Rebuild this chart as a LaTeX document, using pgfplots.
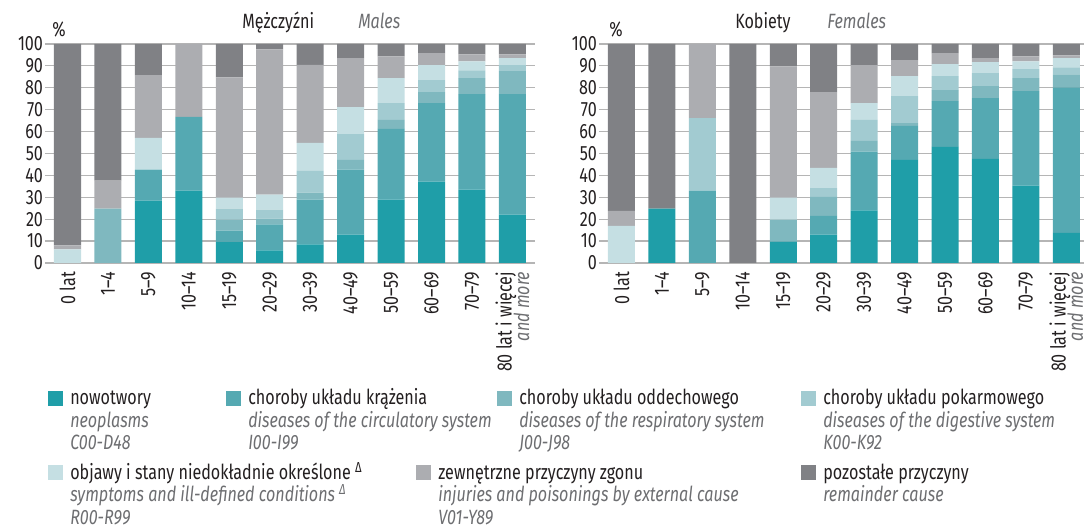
\documentclass[border=0pt]{standalone}
\usepackage{pgfplots}
\pgfplotsset{compat=1.18}
\usepackage{pgfplotstable}
\usepackage{fontspec}
\setmainfont{Fira Sans}[FakeStretch=0.78]
\definecolor{cNeo}{HTML}{1F9EA8}
\definecolor{cCirc}{HTML}{55A9B2}
\definecolor{cResp}{HTML}{7FB8BF}
\definecolor{cDig}{HTML}{A2CBD1}
\definecolor{cSymp}{HTML}{C5DFE3}
\definecolor{cExt}{HTML}{ACADB1}
\definecolor{cRem}{HTML}{808185}
\definecolor{tc}{HTML}{231F20}
\definecolor{tgray}{HTML}{6D6E71}
\definecolor{gridc}{HTML}{B5B5B5}
\newcommand\tickfont{\fontsize{15.5pt}{17pt}\selectfont}
\newcommand\legfont{\fontsize{15.5pt}{16.5pt}\selectfont}

\pgfplotstableread{
x neo circ resp dig symp ext rem
0 0 0 0 0 6.2 1.8 92.0
1 0 0 24.8 0 0 12.8 62.4
2 28.5 14.1 0 0 14.5 28.7 14.2
3 33.0 33.7 0 0 0 33.3 0
4 9.8 5.0 5.0 5.0 5.0 55.0 15.2
5 5.8 11.8 2.7 4.1 6.8 66.4 2.4
6 8.5 20.4 3.2 10.0 12.7 35.7 9.5
7 13.0 29.6 4.5 11.8 12.3 22.3 6.5
8 28.9 32.3 4.1 7.7 11.4 10.0 5.6
9 37.1 35.9 5.0 5.5 6.8 5.5 4.2
10 33.5 43.6 7.3 3.6 4.1 3.2 4.7
11 22.1 55.0 10.5 2.7 3.2 1.8 4.7
}\males

\pgfplotstableread{
x neo circ resp dig symp ext rem
0 0 0 0 0 17.0 6.8 76.2
1 24.8 0 0 0 0 0 75.2
2 0 33.0 0 33.2 0 33.8 0
3 0 0 0 0 0 0 100
4 9.8 0 10.0 0 10.0 60.0 10.2
5 12.9 8.6 8.7 4.0 9.2 34.6 22.0
6 24.0 26.8 5.0 9.5 7.7 17.3 9.7
7 47.1 15.5 1.3 12.3 9.1 7.3 7.4
8 53.0 20.9 5.0 6.4 5.5 5.0 4.2
9 47.6 27.7 5.5 5.9 5.0 1.8 6.5
10 35.3 43.2 5.9 4.1 3.6 2.3 5.6
11 13.8 66.4 5.9 3.2 4.2 1.3 5.2
}\females

\pgfplotsset{
  mystyle/.style={
    scale only axis, width=367.07pt, height=164.25pt,
    xmin=-0.55, xmax=11.55, ymin=0, ymax=100,
    ybar stacked, bar width=20.25pt,
    axis line style={draw=none}, major tick length=0pt,
    ymajorgrids, grid style={line width=0.9pt, color=gridc},
    ytick={0,10,...,100},
    xtick={0,...,11},
    xticklabels={0 lat,1--4,5--9,10--14,15--19,20--29,30--39,40--49,50--59,60--69,70--79,{80 lat i~więcej\\[-4pt]\textcolor{tgray}{\itshape and more}}},
    xticklabel style={rotate=90, anchor=east, align=right, inner sep=0pt, font=\tickfont, text=tc},
    xticklabel shift=6.5pt,
    yticklabel style={anchor=east, inner sep=0pt, font=\tickfont, text=tc},
    yticklabel shift=1.5pt,
    /pgf/number format/assume math mode=true,
    clip=false,
  }
}

% legend entry: text x, first baseline y, colour, three lines
\newcommand\legentry[6]{%
  \fill[#3] ({#1-22},{#2-14}) rectangle ({#1-7},{#2+1});
  \node[anchor=base west, inner sep=0pt, font=\legfont, text=tc] at (#1,#2) {#4};
  \node[anchor=base west, inner sep=0pt, font=\legfont\itshape, text=tgray] at (#1,{#2+22}) {#5};
  \node[anchor=base west, inner sep=0pt, font=\legfont\itshape, text=tgray] at (#1,{#2+45}) {#6};
}

\begin{document}
\begin{tikzpicture}
\useasboundingbox (0,0) rectangle (813pt,-397.5pt);

\begin{axis}[mystyle, at={(33.94pt,-197.25pt)}, anchor=south west]
\addplot[fill=cNeo, draw=none] table[x=x,y=neo]{\males};
\addplot[fill=cCirc, draw=none] table[x=x,y=circ]{\males};
\addplot[fill=cResp, draw=none] table[x=x,y=resp]{\males};
\addplot[fill=cDig, draw=none] table[x=x,y=dig]{\males};
\addplot[fill=cSymp, draw=none] table[x=x,y=symp]{\males};
\addplot[fill=cExt, draw=none] table[x=x,y=ext]{\males};
\addplot[fill=cRem, draw=none] table[x=x,y=rem]{\males};
\end{axis}

\begin{axis}[mystyle, at={(449.4pt,-197.25pt)}, anchor=south west]
\addplot[fill=cNeo, draw=none] table[x=x,y=neo]{\females};
\addplot[fill=cCirc, draw=none] table[x=x,y=circ]{\females};
\addplot[fill=cResp, draw=none] table[x=x,y=resp]{\females};
\addplot[fill=cDig, draw=none] table[x=x,y=dig]{\females};
\addplot[fill=cSymp, draw=none] table[x=x,y=symp]{\females};
\addplot[fill=cExt, draw=none] table[x=x,y=ext]{\females};
\addplot[fill=cRem, draw=none] table[x=x,y=rem]{\females};
\end{axis}

\begin{scope}[x=0.75pt,y=-0.75pt]
% titles
\node[anchor=base west, inner sep=0pt, font=\legfont, text=tc] at (242,29) {Mężczyźni};
\node[anchor=base west, inner sep=0pt, font=\legfont\itshape, text=tgray] at (358,29) {Males};
\node[anchor=base west, inner sep=0pt, font=\legfont, text=tc] at (735,29) {Kobiety};
\node[anchor=base west, inner sep=0pt, font=\legfont\itshape, text=tgray] at (827,29) {Females};
\node[anchor=base west, inner sep=0pt, font=\legfont, text=tc] at (52,37) {\%};
\node[anchor=base west, inner sep=0pt, font=\legfont, text=tc] at (609,37) {\%};

% legend row 1
\legentry{70}{405}{cNeo}{nowotwory}{neoplasms}{C00-D48}
\legentry{248}{405}{cCirc}{choroby układu krążenia}{diseases of the circulatory system}{I00-I99}
\legentry{519}{405}{cResp}{choroby układu oddechowego}{diseases of the respiratory system}{J00-J98}
\legentry{823}{405}{cDig}{choroby układu pokarmowego}{diseases of the digestive system}{K00-K92}
% legend row 2
\legentry{70}{479}{cSymp}{objawy i stany niedokładnie określone \textsuperscript{Δ}}{symptoms and ill-defined conditions \textsuperscript{Δ}}{R00-R99}
\legentry{438}{479}{cExt}{zewnętrzne przyczyny zgonu}{injuries and poisonings by external cause}{V01-Y89}
\legentry{823}{479}{cRem}{pozostałe przyczyny}{remainder cause}{}
\end{scope}
\end{tikzpicture}
\end{document}
